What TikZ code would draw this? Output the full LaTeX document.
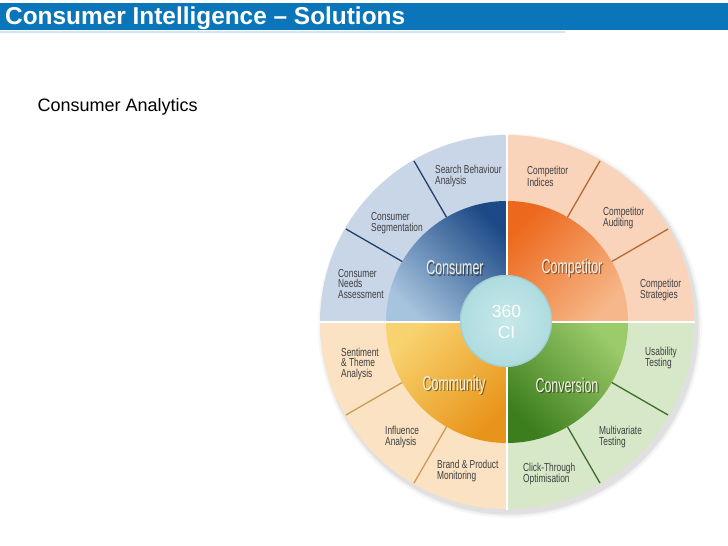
\documentclass[tikz,border=0pt]{standalone}
\usepackage{fontspec}
\setmainfont{Liberation Sans}
\newfontfamily\condfont[FakeStretch=0.72]{Liberation Sans}
\newfontfamily\bigcondfont[FakeStretch=0.62]{Liberation Sans}
\definecolor{hdrblue}{HTML}{0A76B9}
\definecolor{hdrline}{HTML}{CFE7F4}
\definecolor{consouter}{HTML}{C9D6E7}
\definecolor{compouter}{HTML}{F9D4BB}
\definecolor{commouter}{HTML}{FAE2C2}
\definecolor{convouter}{HTML}{D6E8C7}
\definecolor{consdark}{HTML}{1D4A86}
\definecolor{conslight}{HTML}{A7C4DF}
\definecolor{compdark}{HTML}{EC681C}
\definecolor{complight}{HTML}{F6B88A}
\definecolor{commlight}{HTML}{F8D26E}
\definecolor{commdark}{HTML}{E8941A}
\definecolor{convlight}{HTML}{9CCB6A}
\definecolor{convdark}{HTML}{3C7D1D}
\definecolor{consline}{HTML}{22406A}
\definecolor{compline}{HTML}{B8682E}
\definecolor{commline}{HTML}{C89C55}
\definecolor{convline}{HTML}{3F6B2A}
\definecolor{lbltext}{HTML}{3E3E42}
\definecolor{quadtext}{HTML}{F4F2E6}
\definecolor{cyanin}{HTML}{C6E8EA}
\definecolor{cyanout}{HTML}{AFDCDF}
\definecolor{cyanedge}{HTML}{9FCFD3}
\begin{document}
\begin{tikzpicture}[x=1pt,y=1pt,
  ringlbl/.style={font=\condfont\fontsize{11.6}{10.5}\selectfont, text=lbltext, align=left, anchor=west, inner sep=0pt},
  quadlbl/.style={font=\bigcondfont\fontsize{20}{22}\selectfont, text=quadtext, inner sep=0pt},
  quadshadow/.style={font=\bigcondfont\fontsize{20}{22}\selectfont, text=black, opacity=0.45, inner sep=0pt},
  divider/.style={line width=1.3pt},
]
\useasboundingbox (0,0) rectangle (728,546);
\fill[white] (0,0) rectangle (728,546);
% header
\fill[hdrblue] (0,515.5) rectangle (728,542.5);
\draw[hdrline, line width=1.5pt] (0,514) -- (565,514);
\node[anchor=base west, inner sep=0pt, text=white, font=\bfseries\fontsize{24.4}{28}\selectfont] (title) at (5,521) {Consumer Intelligence – Solutions};
\node[anchor=base west, inner sep=0pt, font=\fontsize{18}{20}\selectfont] (sub) at (37.5,434) {Consumer Analytics};

\coordinate (O) at (507,224);
% shadow
\foreach \r/\o in {192/0.03,190/0.04,188.5/0.05} \fill[black,opacity=\o] (510,220) circle (\r);
% outer ring sectors
\fill[consouter] (O) -- ++(90:187) arc[start angle=90,end angle=180,radius=187] -- cycle;
\fill[compouter] (O) -- ++(0:187) arc[start angle=0,end angle=90,radius=187] -- cycle;
\fill[commouter] (O) -- ++(180:187) arc[start angle=180,end angle=270,radius=187] -- cycle;
\fill[convouter] (O) -- ++(270:187) arc[start angle=270,end angle=360,radius=187] -- cycle;
% inner sectors
\shade[top color=consdark, bottom color=conslight, shading angle=-45] (O) -- ++(90:121) arc[start angle=90,end angle=180,radius=121] -- cycle;
\shade[top color=compdark, bottom color=complight, shading angle=45] (O) -- ++(0:121) arc[start angle=0,end angle=90,radius=121] -- cycle;
\shade[top color=commlight, bottom color=commdark, shading angle=45] (O) -- ++(180:121) arc[start angle=180,end angle=270,radius=121] -- cycle;
\shade[top color=convlight, bottom color=convdark, shading angle=-45] (O) -- ++(270:121) arc[start angle=270,end angle=360,radius=121] -- cycle;
% radial dividers
\draw[divider, consline] (O) ++(120:121) -- ++(120:65);
\draw[divider, consline] (O) ++(150:121) -- ++(150:65);
\draw[divider, compline] (O) ++(60:121) -- ++(60:65);
\draw[divider, compline] (O) ++(30:121) -- ++(30:65);
\draw[divider, commline] (O) ++(210:121) -- ++(210:65);
\draw[divider, commline] (O) ++(240:121) -- ++(240:65);
\draw[divider, convline] (O) ++(300:121) -- ++(300:65);
\draw[divider, convline] (O) ++(330:121) -- ++(330:65);
% white cross
\draw[white, line width=2.5pt] (507,412) -- (507,36);
\draw[white, line width=2.5pt] (319,224) -- (695,224);
% centre circle
\shade[inner color=cyanin, outer color=cyanout] (506,225) circle (46);
\draw[cyanedge, line width=1.2pt] (506,225) circle (45.4);
\node[align=center, text=white, inner sep=0pt, font=\fontsize{17.5}{21}\selectfont] (ci) at (506.5,224) {360\\CI};
% quadrant labels
\node[quadshadow] at (456.2,276.8) {Consumer};
\node[quadlbl] (consumer) at (455,278) {Consumer};
\node[quadshadow] at (573.2,276.8) {Competitor};
\node[quadlbl] (competitor) at (572,278) {Competitor};
\node[quadshadow] at (455.2,159.8) {Community};
\node[quadlbl] (community) at (454,161) {Community};
\node[quadshadow] at (568.2,159.8) {Conversion};
\node[quadlbl] (conversion) at (567,161) {Conversion};
% ring labels
\node[ringlbl] (sba) at (435,370) {Search Behaviour\\Analysis};
\node[ringlbl] (cseg) at (371,323) {Consumer\\Segmentation};
\node[ringlbl] (cna) at (338,262) {Consumer\\Needs\\Assessment};
\node[ringlbl] (cind) at (527,370) {Competitor\\Indices};
\node[ringlbl] (caud) at (603,328) {Competitor\\Auditing};
\node[ringlbl] (cstr) at (640,256) {Competitor\\Strategies};
\node[ringlbl] (sta) at (341,182) {Sentiment\\\& Theme\\Analysis};
\node[ringlbl] (infl) at (385,109) {Influence\\Analysis};
\node[ringlbl] (bpm) at (437,75) {Brand \& Product\\Monitoring};
\node[ringlbl] (cto) at (523,72) {Click-Through\\Optimisation};
\node[ringlbl] (mvt) at (599,109) {Multivariate\\Testing};
\node[ringlbl] (ust) at (645,188) {Usability\\Testing};
\end{tikzpicture}
\end{document}
